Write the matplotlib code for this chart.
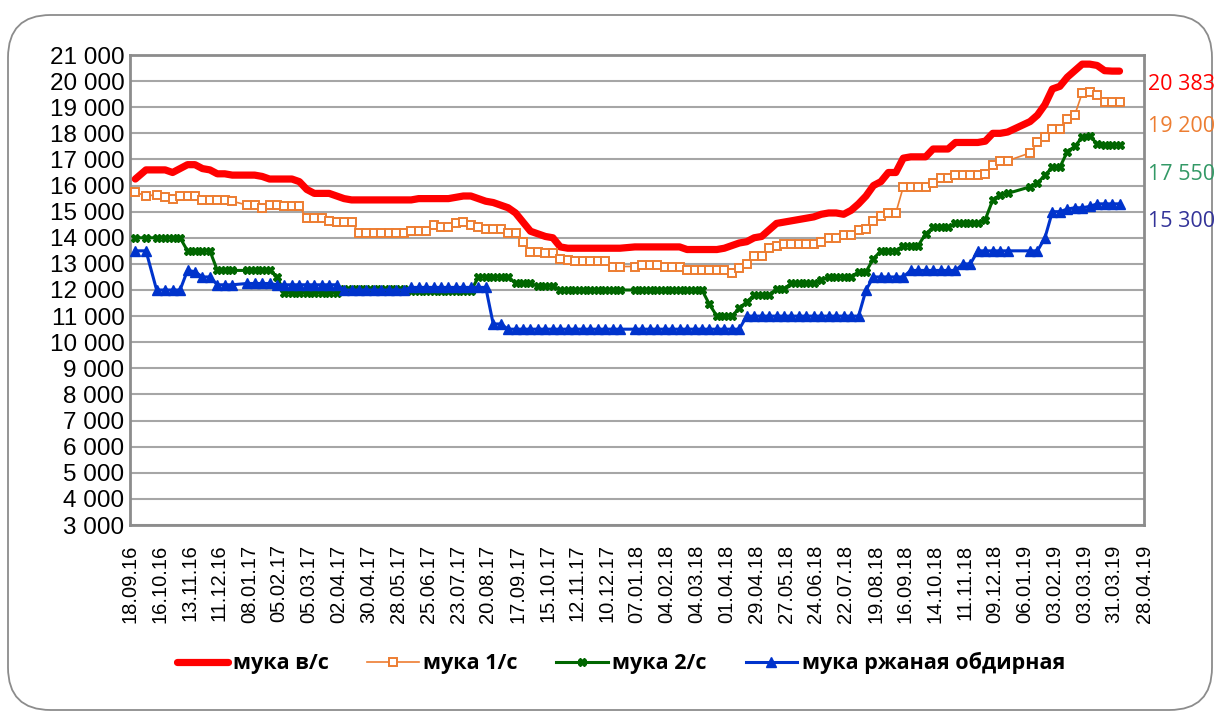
import numpy as np
import pandas as pd
import matplotlib
matplotlib.use("Agg")
import matplotlib.pyplot as plt
from matplotlib.patches import FancyBboxPatch

# dates of the price observations (first three are 10 days apart, then weekly, holiday weeks missing)
first_dates = ["2016-09-23", "2016-10-03", "2016-10-13"]
missing_dates = ["2016-12-30", "2017-12-29", "2018-12-28", "2019-01-04"]
weekly = pd.date_range("2016-10-21", "2019-04-05", freq="7D")
weekly = weekly[~weekly.isin(pd.to_datetime(missing_dates))]
dates = pd.to_datetime(first_dates).append(weekly)

flour_top = [16250, 16600, 16600,
             16600, 16500, 16650, 16800, 16800, 16650, 16600, 16450, 16450, 16400,
             16400, 16400, 16350, 16250, 16250, 16250, 16250, 16150, 15850, 15700,
             15700, 15700, 15600, 15500, 15450, 15450, 15450, 15450, 15450, 15450,
             15450, 15450, 15450, 15500, 15500, 15500, 15500, 15500, 15550, 15600,
             15600, 15500, 15400, 15350, 15250, 15150, 14950, 14600, 14250, 14150,
             14050, 14000, 13650, 13600, 13600, 13600, 13600, 13600, 13600, 13600, 13600,
             13650, 13650, 13650, 13650, 13650, 13650, 13650, 13550, 13550, 13550,
             13550, 13550, 13600, 13700, 13800, 13850, 14000, 14050, 14300, 14550,
             14600, 14650, 14700, 14750, 14800, 14900, 14950, 14950, 14900, 15050,
             15300, 15600, 16000, 16150, 16500, 16500, 17050, 17100, 17100, 17100,
             17400, 17400, 17400, 17650, 17650, 17650, 17650, 17700, 18000, 18000, 18050,
             18450, 18700, 19100, 19700, 19800, 20150, 20400, 20650, 20650, 20600, 20400, 20383, 20383]

flour_1 = [15750, 15600, 15650,
           15550, 15500, 15600, 15600, 15600, 15450, 15450, 15450, 15450, 15400,
           15250, 15250, 15150, 15250, 15250, 15200, 15200, 15200, 14750, 14750,
           14750, 14650, 14600, 14600, 14600, 14200, 14200, 14200, 14200, 14200,
           14200, 14200, 14250, 14250, 14250, 14500, 14400, 14400, 14550, 14600,
           14500, 14400, 14350, 14350, 14350, 14200, 14200, 13850, 13450, 13450,
           13400, 13400, 13200, 13150, 13100, 13100, 13100, 13100, 13100, 12900, 12900,
           12900, 12950, 12950, 12950, 12900, 12900, 12900, 12750, 12750, 12750,
           12750, 12750, 12750, 12650, 12850, 13000, 13300, 13300, 13600, 13700,
           13750, 13750, 13750, 13750, 13750, 13850, 14000, 14000, 14100, 14100,
           14300, 14350, 14650, 14850, 14950, 14950, 15950, 15950, 15950, 15950,
           16100, 16300, 16300, 16400, 16400, 16400, 16400, 16450, 16800, 16950, 16950,
           17250, 17650, 17850, 18150, 18150, 18550, 18700, 19550, 19600, 19450, 19200, 19200, 19200]

flour_2 = [14000, 14000, 14000,
           14000, 14000, 14000, 13500, 13500, 13500, 13500, 12750, 12750, 12750,
           12750, 12750, 12750, 12750, 12500, 11900, 11900, 11900, 11900, 11900,
           11900, 11900, 11900, 12050, 12050, 12050, 12050, 12050, 12050, 12050,
           12050, 12050, 11950, 11950, 11950, 11950, 11950, 11950, 11950, 11950,
           11950, 12500, 12500, 12500, 12500, 12500, 12250, 12250, 12250, 12150,
           12150, 12150, 12000, 12000, 12000, 12000, 12000, 12000, 12000, 12000, 12000,
           12000, 12000, 12000, 12000, 12000, 12000, 12000, 12000, 12000, 12000,
           11450, 11000, 11000, 11000, 11300, 11550, 11800, 11800, 11800, 12050,
           12050, 12250, 12250, 12250, 12250, 12400, 12500, 12500, 12500, 12500,
           12700, 12700, 13200, 13500, 13500, 13500, 13700, 13700, 13700, 14150,
           14400, 14400, 14400, 14550, 14550, 14550, 14550, 14700, 15450, 15650, 15700,
           15950, 16100, 16400, 16700, 16700, 17300, 17500, 17850, 17900, 17600, 17550, 17550, 17550]

flour_rye = [13500, 13500, 12000,
             12000, 12000, 12000, 12750, 12700, 12500, 12500, 12200, 12200, 12200,
             12250, 12250, 12250, 12250, 12200, 12200, 12200, 12200, 12200, 12200,
             12200, 12200, 12200, 12000, 12000, 12000, 12000, 12000, 12000, 12000,
             12000, 12000, 12100, 12100, 12100, 12100, 12100, 12100, 12100, 12100,
             12100, 12100, 12100, 10700, 10700, 10500, 10500, 10500, 10500, 10500,
             10500, 10500, 10500, 10500, 10500, 10500, 10500, 10500, 10500, 10500, 10500,
             10500, 10500, 10500, 10500, 10500, 10500, 10500, 10500, 10500, 10500,
             10500, 10500, 10500, 10500, 10500, 11000, 11000, 11000, 11000, 11000,
             11000, 11000, 11000, 11000, 11000, 11000, 11000, 11000, 11000, 11000,
             11000, 12000, 12500, 12500, 12500, 12500, 12500, 12750, 12750, 12750,
             12750, 12750, 12750, 12750, 13000, 13000, 13500, 13500, 13500, 13500, 13500,
             13500, 13500, 14000, 15000, 15000, 15100, 15150, 15150, 15200, 15300, 15300, 15300, 15300]

series_names = ["мука в/с", "мука 1/с", "мука 2/с", "мука ржаная обдирная"]
end_labels = ["20 383", "19 200", "17 550", "15 300"]

W, H = 1217, 722
fig = plt.figure(figsize=(W / 100, H / 100), dpi=100)

# rounded frame around the whole chart
frame = FancyBboxPatch((8 / W, 12 / H), 1204 / W, 695 / H, boxstyle="round,pad=0,rounding_size=0.035",
                       transform=fig.transFigure, facecolor="none", edgecolor="#8c8c8c", linewidth=1.3,
                       mutation_aspect=W / H, zorder=-1)
fig.patches.append(frame)

ax = fig.add_axes([130 / W, 1 - 525 / H, (1144 - 130) / W, (525 - 55) / H])

ax.plot(dates, flour_top, color="#ff0000", linewidth=5.2, solid_capstyle="round", label=series_names[0], zorder=3)
ax.plot(dates, flour_1, color="#ed7d31", linewidth=1.2, marker="s", markersize=6.4,
        markerfacecolor="white", markeredgecolor="#ed7d31", markeredgewidth=1.4, label=series_names[1], zorder=4)
ax.plot(dates, flour_2, color="#006600", linewidth=2.2, marker="X", markersize=5.5,
        markerfacecolor="#006600", markeredgecolor="#006600", label=series_names[2], zorder=5)
ax.plot(dates, flour_rye, color="#0033cc", linewidth=2.2, marker="^", markersize=6.5,
        markerfacecolor="#0033cc", markeredgecolor="#0033cc", label=series_names[3], zorder=6)

ax.set_ylim(3000, 21000)
ax.set_yticks(np.arange(3000, 21001, 1000))
ax.set_yticklabels([f"{v:,}".replace(",", " ") for v in range(3000, 21001, 1000)],
                   fontsize=17.5, family="Liberation Sans")

ticks = pd.date_range("2016-09-18", "2019-04-28", freq="28D")
ax.set_xlim(ticks[0], ticks[-1])
ax.set_xticks(ticks)
ax.set_xticklabels([t.strftime("%d.%m.%y") for t in ticks], rotation=90, fontsize=14.5,
                   family="Liberation Sans", va="top", ha="center")
ax.tick_params(axis="both", length=0, pad=4)
ax.tick_params(axis="x", pad=14)

ax.grid(axis="y", color="#a6a6a6", linewidth=1.5)
ax.set_axisbelow(True)
for s in ax.spines.values():
    s.set_color("#8c8c8c")
    s.set_linewidth(2)

# values at the right of the lines
label_colors = ["#ff0000", "#ed7d31", "#339966", "#333399"]
label_y = [84, 126, 174, 222]
for txt, c, yp in zip(end_labels, label_colors, label_y):
    fig.text(1148 / W, 1 - yp / H, txt, color=c, fontsize=15.5, family=["Open Sans", "DejaVu Sans"],
             va="center", ha="left")

leg = fig.legend(loc="center", bbox_to_anchor=(0.51, 1 - 663 / H), ncol=4, frameon=False,
                 prop={"family": ["Open Sans", "DejaVu Sans"], "weight": "bold", "size": 15.5},
                 handlelength=2.4, handletextpad=0.2, columnspacing=1.8)

fig.savefig("out.png", dpi=100)
